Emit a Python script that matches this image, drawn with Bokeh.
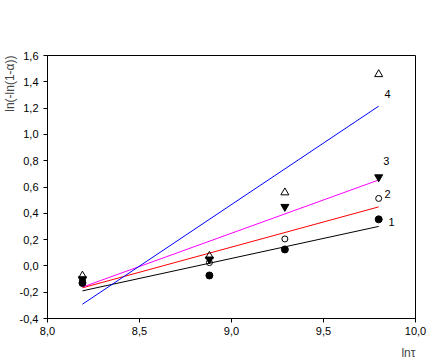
import numpy as np
from bokeh.plotting import figure
from bokeh.models import Label, FixedTicker, Range1d, Title
from bokeh.embed import file_html
from bokeh.resources import INLINE

# data
ln_tau = [8.19, 8.88, 9.29, 9.80]
series1 = [-0.13, -0.073, 0.125, 0.354]
series2 = [-0.11, 0.025, 0.205, 0.513]
series3 = [-0.10, 0.05, 0.45, 0.675]
series4 = [-0.075, 0.075, 0.558, 1.457]
series_names = ["1", "2", "3", "4"]

x_ticks = [8.0, 8.5, 9.0, 9.5, 10.0]
x_tick_labels = ["8,0", "8,5", "9,0", "9,5", "10,0"]
y_ticks = [-0.4, -0.2, 0.0, 0.2, 0.4, 0.6, 0.8, 1.0, 1.2, 1.4, 1.6]
y_tick_labels = ["-0,4", "-0,2", "0,0", "0,2", "0,4", "0,6", "0,8", "1,0", "1,2", "1,4", "1,6"]

FONT = "Liberation Sans"

p = figure(frame_width=368, frame_height=263, output_backend="svg", toolbar_location=None,
           x_range=Range1d(8.0, 10.0), y_range=Range1d(-0.4, 1.6),
           min_border_left=0, min_border_right=25, min_border_top=55, min_border_bottom=45)
p.background_fill_color = "white"
p.border_fill_color = "white"
p.outline_line_color = "black"
p.outline_line_alpha = 1.0
p.outline_line_width = 1
p.grid.visible = False

for ax, ticks, labels in ((p.xaxis[0], x_ticks, x_tick_labels), (p.yaxis[0], y_ticks, y_tick_labels)):
    ax.ticker = FixedTicker(ticks=ticks)
    ax.major_label_overrides = {t: l for t, l in zip(ticks, labels)}
    ax.major_tick_out = 4
    ax.major_tick_in = 0
    ax.minor_tick_line_color = None
    ax.axis_line_color = "black"
    ax.major_tick_line_color = "black"
    ax.major_label_text_font = FONT
    ax.major_label_text_font_size = "11px"
    ax.major_label_text_color = "black"
    ax.major_label_standoff = 4
p.yaxis[0].major_label_standoff = 5

xs = np.array(ln_tau)
colors = ["black", "red", "magenta", "blue"]
all_series = [series1, series2, series3, series4]
for ys, c in zip(all_series, colors):
    k, b = np.polyfit(xs, np.array(ys), 1)
    xl = [xs.min(), xs.max()]
    p.line(xl, [k * xl[0] + b, k * xl[1] + b], line_color=c, line_width=1)

p.scatter(ln_tau, series1, marker="circle", size=7, fill_color="black", line_color="black")
p.scatter(ln_tau, series2, marker="circle", size=6, fill_color="white", fill_alpha=0, line_color="black")
p.scatter(ln_tau, series3, marker="inverted_triangle", size=8, fill_color="black", line_color="black")
p.scatter(ln_tau, series4, marker="triangle", size=8, fill_color="white", fill_alpha=0, line_color="black")

label_pos = [(9.87, 0.332), (9.848, 0.545), (9.842, 0.796), (9.848, 1.305)]
for name, (lx, ly) in zip(series_names, label_pos):
    p.add_layout(Label(x=lx, y=ly, text=name, text_font=FONT, text_font_size="11px",
                       text_align="center", text_baseline="middle", text_color="black"))

p.add_layout(Title(text="ln\u03c4", align="right", text_font=FONT, text_font_size="12px",
                   text_font_style="normal", standoff=12, offset=0), "below")
p.add_layout(Title(text="ln(-ln(1-\u03b1))", align="right", text_font=FONT, text_font_size="12px",
                   text_font_style="normal", standoff=0, offset=0), "left")

open("out.html", "w").write(file_html(p, INLINE))
